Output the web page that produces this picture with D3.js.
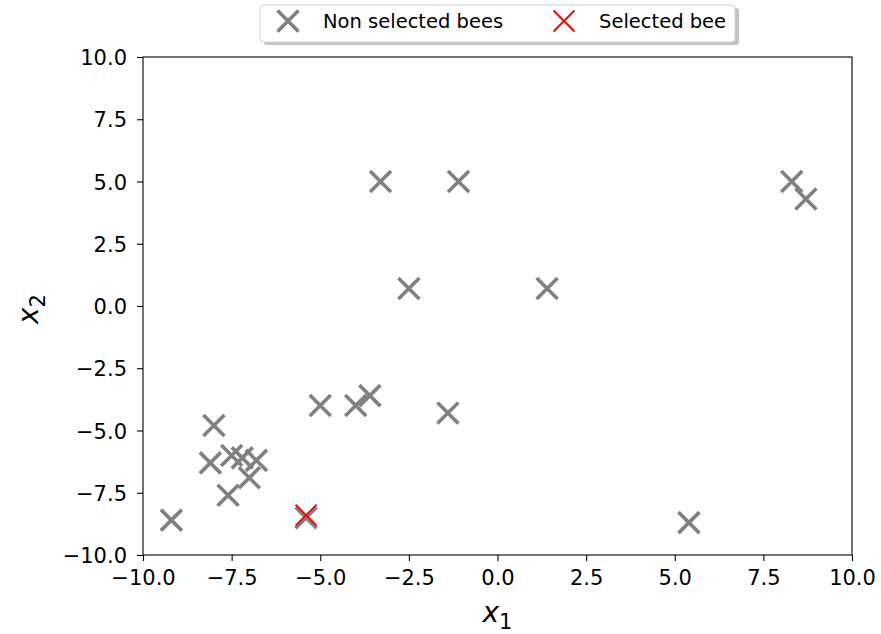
<!DOCTYPE html>
<meta charset="utf-8">
<script src="https://d3js.org/d3.v7.min.js"></script>
<style>
  body { margin: 0; background: #fff; }
  text { font-family: "DejaVu Sans", sans-serif; }
</style>
<body>
<div id="chart"></div>
<script>
// bee positions
var beesX1 = [-9.2, -8.0, -8.1, -7.5, -7.2, -6.8, -7.0, -7.6, -5.4, -5.0, -4.0, -3.6, -1.4, -3.3, -1.1, -2.5, 1.4, 5.4, 8.3, 8.7];
var beesX2 = [-8.6, -4.8, -6.3, -6.0, -6.1, -6.2, -6.9, -7.6, -8.5, -4.0, -4.0, -3.6, -4.3, 5.0, 5.0, 0.7, 0.7, -8.7, 5.0, 4.3];
var selectedX1 = [-5.4];
var selectedX2 = [-8.4];
var tickValues = [-10, -7.5, -5, -2.5, 0, 2.5, 5, 7.5, 10];
var legendLabels = ["Non selected bees", "Selected bee"];

var margin = {top: 57, right: 29, bottom: 79, left: 143},
    width = 881 - margin.left - margin.right,
    height = 634 - margin.top - margin.bottom;

var svg = d3.select("#chart").append("svg")
    .attr("width", 881)
    .attr("height", 634);

var g = svg.append("g")
    .attr("transform", "translate(" + margin.left + "," + margin.top + ")");

var x = d3.scaleLinear().domain([-10, 10]).range([0, width]);
var y = d3.scaleLinear().domain([-10, 10]).range([height, 0]);

function fmt(d) { return d3.format(".1f")(d).replace("-", "\u2212"); }

var xAxis = g.append("g")
    .attr("transform", "translate(0," + height + ")")
    .call(d3.axisBottom(x).tickValues(tickValues).tickFormat(fmt).tickSize(6).tickPadding(9));
var yAxis = g.append("g")
    .call(d3.axisLeft(y).tickValues(tickValues).tickFormat(fmt).tickSize(6).tickPadding(10));
[xAxis, yAxis].forEach(function(a) {
  a.select(".domain").remove();
  a.attr("font-size", null).attr("font-family", null);
  a.selectAll("text").style("font-size", "21px").style("font-family", "DejaVu Sans").attr("fill", "#000");
  a.selectAll("line").attr("stroke", "#000").attr("stroke-width", 1.1);
});
yAxis.selectAll("text").attr("dy", "0.36em");

// frame
g.append("rect")
    .attr("width", width).attr("height", height)
    .attr("fill", "none").attr("stroke", "#000").attr("stroke-width", 1.1);

function cross(sel, cx, cy, s, color, sw) {
  sel.append("path")
    .attr("d", "M" + (cx - s) + "," + (cy - s) + "L" + (cx + s) + "," + (cy + s) +
               "M" + (cx - s) + "," + (cy + s) + "L" + (cx + s) + "," + (cy - s))
    .attr("stroke", color).attr("stroke-width", sw).attr("fill", "none");
}

var pts = g.append("g");
beesX1.forEach(function(v, i) {
  cross(pts, x(v), y(beesX2[i]), 10.5, "#808080", 3.6);
});
selectedX1.forEach(function(v, i) {
  cross(pts, x(v), y(selectedX2[i]), 10.5, "#ff0000", 1.8);
});

// axis labels
svg.append("text")
    .attr("x", margin.left + width / 2).attr("y", 622)
    .attr("text-anchor", "middle")
    .style("font-size", "28px").style("font-style", "italic")
    .html('x<tspan dy="7" font-size="21" font-style="normal">1</tspan>');

svg.append("text")
    .attr("transform", "translate(38," + (margin.top + height / 2 + 3) + ") rotate(-90)")
    .attr("text-anchor", "middle")
    .style("font-size", "28px").style("font-style", "italic")
    .html('x<tspan dy="7" font-size="21" font-style="normal">2</tspan>');

// legend
var lg = svg.append("g");
lg.append("rect")
    .attr("x", 264).attr("y", 8).attr("width", 475).attr("height", 37)
    .attr("rx", 3).attr("fill", "#aaaaaa").attr("opacity", 0.7);
lg.append("rect")
    .attr("x", 260).attr("y", 5).attr("width", 475).attr("height", 37)
    .attr("rx", 3).attr("fill", "#fff").attr("stroke", "#d0d0d0");
cross(lg, 288, 21, 10.5, "#808080", 3.6);
cross(lg, 564, 21, 10.5, "#ff0000", 1.8);
lg.append("text").attr("x", 323).attr("y", 28).style("font-size", "19.5px").text(legendLabels[0]);
lg.append("text").attr("x", 599).attr("y", 28).style("font-size", "19.5px").text(legendLabels[1]);
</script>
</body>
